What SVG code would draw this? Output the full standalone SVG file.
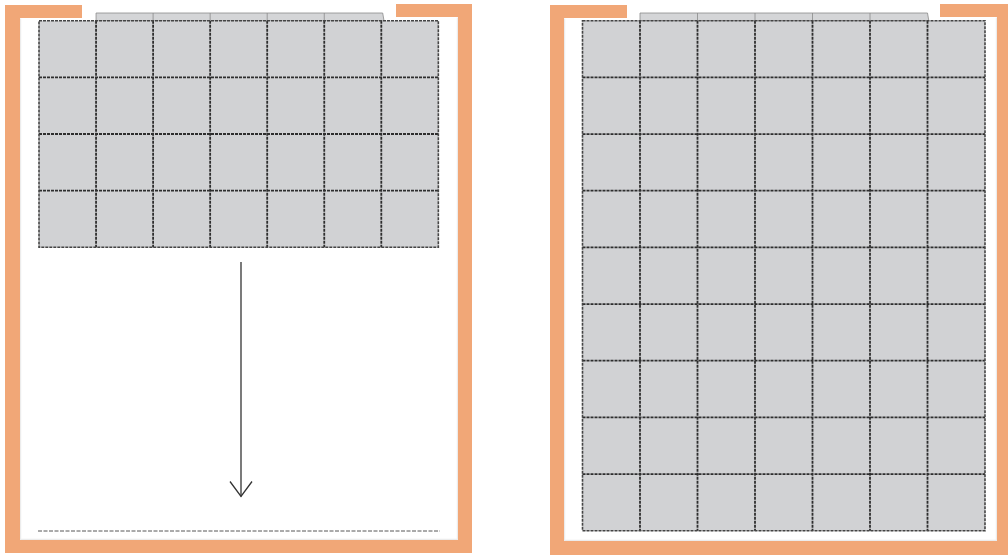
<svg xmlns="http://www.w3.org/2000/svg" width="1008" height="555" viewBox="0 0 1008 555">
  <style>
    .wall { fill: #f1a777; }
    .inner { fill: none; stroke: #ececec; stroke-width: 1.2; }
    .cells { fill: #d1d2d4; }
    .tab { fill: #d4d5d7; stroke: #8a8a8a; stroke-width: 0.8; }
    .grid { fill: none; stroke: #2e2e2e; stroke-width: 1.8; stroke-dasharray: 3 1; }
    .edge { fill: none; stroke: #444; stroke-width: 1.6; stroke-dasharray: 3 1; }
    .conn { fill: none; stroke: #333; stroke-width: 1.3; }
    .floor { fill: none; stroke: #444; stroke-width: 0.9; stroke-dasharray: 4 1.5; }
  </style>
  <defs>
    <marker id="vhead" markerUnits="userSpaceOnUse" markerWidth="40" markerHeight="40" viewBox="-20 -20 40 40" refX="0" refY="0" orient="auto" overflow="visible">
      <path d="M-15,-11 L0,0 L-15,11" fill="none" stroke="#333" stroke-width="1.3"/>
    </marker>
  </defs>
  <rect width="1008" height="555" fill="#ffffff"/>

  <g id="left-container">
    <path class="wall" d="M5,5 H82 V18 H20 V540 H458 V17 H396 V4 H472 V553 H5 Z"/>
    <path class="inner" d="M20.6,18.6 V539.4 H457.4 V17.6"/>
  </g>

  <g id="left-grid">
    <path class="tab" d="M96.05,13 H382.7 L384,20.7 H96.05 Z"/>
    <path class="tab" d="M153.1,13 V20.7 M210.15,13 V20.7 M267.2,13 V20.7 M324.25,13 V20.7"/>
    <rect class="cells" x="39" y="20.7" width="399.35" height="226.6"/>
    <path class="grid" d="M96.05,20.7 V247.3 M153.1,20.7 V247.3 M210.15,20.7 V247.3 M267.2,20.7 V247.3 M324.25,20.7 V247.3 M381.3,20.7 V247.3 M39,77.35 H438.35 M39,134 H438.35 M39,190.65 H438.35"/>
    <rect class="edge" x="39" y="20.7" width="399.35" height="226.6"/>
  </g>

  <g id="right-container">
    <path class="wall" d="M550,5 H627 V18 H564 V541 H997 V17 H940 V4 H1008 V555 H550 Z"/>
    <path class="inner" d="M564.6,18.6 V540.4 H996.4 V17.6"/>
  </g>

  <g id="right-grid">
    <path class="tab" d="M640,13 H927.5 L928.8,20.7 H640 Z"/>
    <path class="tab" d="M697.5,13 V20.7 M755,13 V20.7 M812.5,13 V20.7 M870,13 V20.7"/>
    <rect class="cells" x="582.5" y="20.7" width="402.5" height="510"/>
    <path class="grid" d="M640,20.7 V530.7 M697.5,20.7 V530.7 M755,20.7 V530.7 M812.5,20.7 V530.7 M870,20.7 V530.7 M927.5,20.7 V530.7
      M582.5,77.37 H985 M582.5,134.03 H985 M582.5,190.7 H985 M582.5,247.37 H985 M582.5,304.03 H985 M582.5,360.7 H985 M582.5,417.37 H985 M582.5,474.03 H985"/>
    <rect class="edge" x="582.5" y="20.7" width="402.5" height="510"/>
  </g>

  <g id="connectors">
    <line class="conn" x1="241" y1="262" x2="241" y2="496.5" marker-end="url(#vhead)"/>
    <line class="floor" x1="38" y1="531" x2="440" y2="531"/>
  </g>
</svg>
